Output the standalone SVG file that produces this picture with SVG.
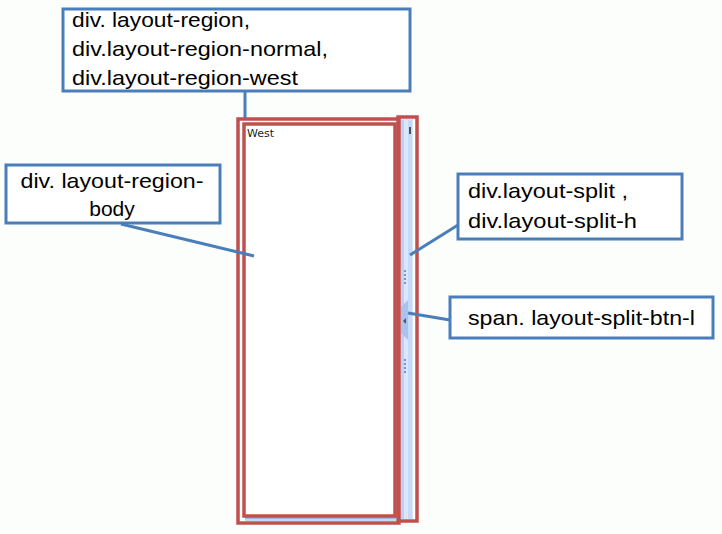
<svg xmlns="http://www.w3.org/2000/svg" width="722" height="534" viewBox="0 0 722 534">
<style>
.box{fill:#ffffff;stroke:#4a7ebb;stroke-width:3}
.lbl{font-family:"Liberation Sans",Arial,sans-serif;font-size:21px;fill:#000}
.conn{stroke:#4a7ebb;stroke-width:3;fill:none}
.red{fill:none;stroke:#c0504d;stroke-width:3.5}
</style>
<rect x="0" y="0" width="722" height="534" fill="#fcfefc"/>
<g id="panel">
  <rect x="239" y="119" width="158" height="403" fill="#ffffff"/>
  <rect x="245" y="516" width="151" height="5" fill="#c6d9f7"/>
  <rect x="245" y="517" width="151" height="2" fill="#99bbe8"/>
  <text x="247" y="137" font-family="'DejaVu Sans',Tahoma,sans-serif" font-size="11" fill="#222">West</text>
</g>
<g id="splitter">
  <rect x="400" y="119" width="13" height="400" fill="#dae6f9"/>
  <rect x="401" y="120" width="3" height="399" fill="#bcd2f5"/>
  <rect x="408" y="120" width="4" height="399" fill="#c6d9f7"/>
  <line x1="410" y1="127" x2="410" y2="134" stroke="#222" stroke-width="1.5"/>
  <g fill="#6f96d6">
    <rect x="404" y="270" width="2" height="2"/><rect x="404" y="274" width="2" height="2"/><rect x="404" y="278" width="2" height="2"/><rect x="404" y="282" width="2" height="2"/>
    <rect x="404" y="359" width="2" height="2"/><rect x="404" y="363" width="2" height="2"/><rect x="404" y="367" width="2" height="2"/><rect x="404" y="371" width="2" height="2"/>
  </g>
  <polygon points="401,307 408,300 408,340 401,333" fill="#a9c3ee"/>
  <polygon points="403,321 406,318 406,324" fill="#555"/>
</g>
<g id="red-outlines">
  <rect class="red" x="238" y="119" width="161" height="404"/>
  <rect class="red" x="244" y="124" width="151" height="392"/>
  <rect class="red" x="398" y="117" width="19" height="404"/>
</g>
<g id="connectors">
  <line class="conn" x1="245" y1="91" x2="245" y2="118"/>
  <line class="conn" x1="121" y1="224" x2="254" y2="256"/>
  <line class="conn" x1="458" y1="225" x2="410" y2="255"/>
  <line class="conn" x1="450" y1="320" x2="408" y2="313"/>
</g>
<g id="node-region">
  <rect class="box" x="63" y="9" width="347" height="82"/>
  <text class="lbl" x="72" y="27" textLength="178" lengthAdjust="spacingAndGlyphs">div. layout-region,</text>
  <text class="lbl" x="72" y="56" textLength="256" lengthAdjust="spacingAndGlyphs">div.layout-region-normal,</text>
  <text class="lbl" x="72" y="85" textLength="226" lengthAdjust="spacingAndGlyphs">div.layout-region-west</text>
</g>
<g id="node-body">
  <rect class="box" x="6" y="165" width="214" height="58"/>
  <text class="lbl" x="112" y="188" text-anchor="middle" textLength="183" lengthAdjust="spacingAndGlyphs">div. layout-region-</text>
  <text class="lbl" x="112" y="216" text-anchor="middle">body</text>
</g>
<g id="node-split">
  <rect class="box" x="458" y="174" width="224" height="65"/>
  <text class="lbl" x="468" y="198" textLength="160" lengthAdjust="spacingAndGlyphs">div.layout-split ,</text>
  <text class="lbl" x="468" y="228" textLength="169" lengthAdjust="spacingAndGlyphs">div.layout-split-h</text>
</g>
<g id="node-btn">
  <rect class="box" x="450" y="297" width="263" height="41"/>
  <text class="lbl" x="468" y="325" textLength="227" lengthAdjust="spacingAndGlyphs">span. layout-split-btn-l</text>
</g>
</svg>
